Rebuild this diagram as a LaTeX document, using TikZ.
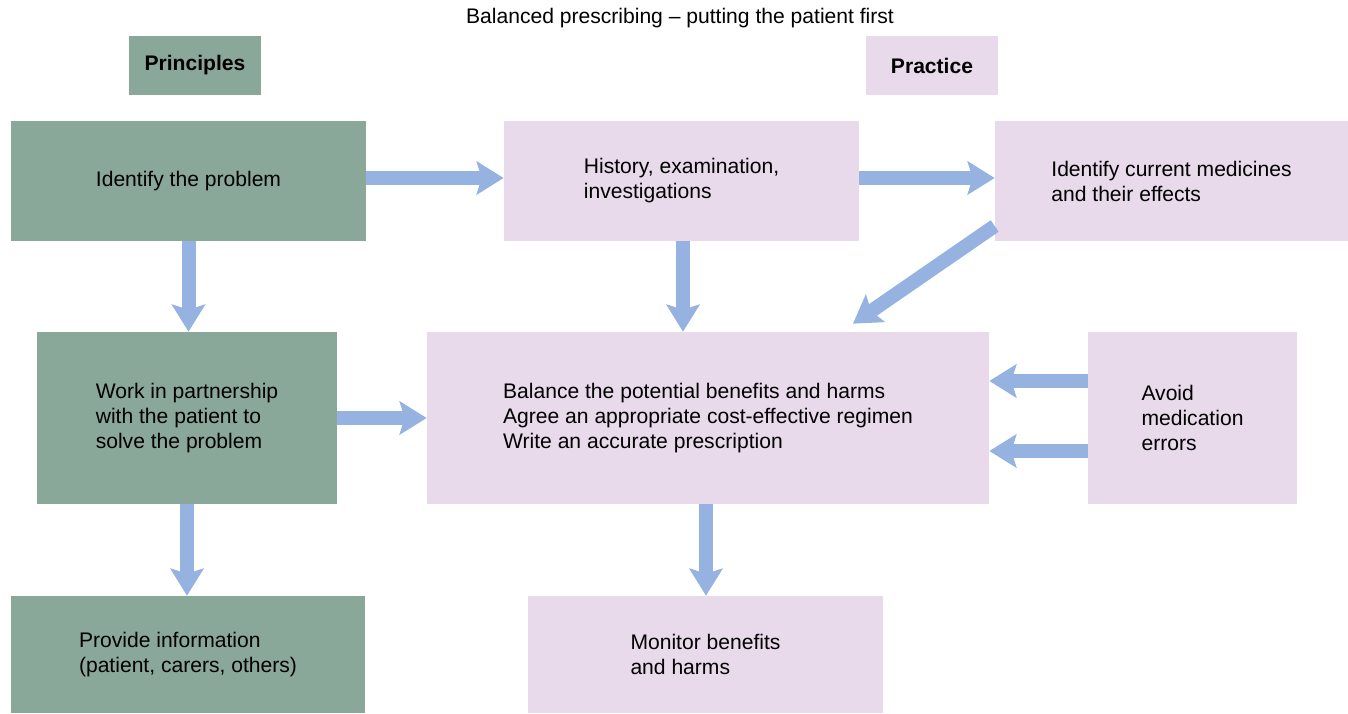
\documentclass[tikz,border=0pt]{standalone}
\usepackage{fontspec}
\setmainfont{Liberation Sans}
\usepackage{tikz}
\usetikzlibrary{arrows.meta}
\usetikzlibrary{positioning}
\definecolor{princgreen}{HTML}{8AA899}
\definecolor{practpink}{HTML}{E8D9EB}
\definecolor{flowblue}{HTML}{96B2E0}
\tikzset{
	txt/.style={font=\fontsize{12pt}{14.2pt}\selectfont, align=left, inner sep=0pt},
	princbox/.style={txt, fill=princgreen, minimum height=2.4cm},
	practbox/.style={txt, fill=practpink, minimum height=2.4cm},
	header/.style={txt, font=\fontsize{12pt}{14.2pt}\selectfont\bfseries, minimum width=2.64cm, minimum height=1.18cm},
	flow/.style={draw=flowblue, line width=0.28cm,
		-{Stealth[length=0.54cm, width=0.66cm, inset=0.1cm, fill=flowblue]}},
}

\begin{document}
\begin{tikzpicture}[x=0.02cm, y=-0.02cm]
			\useasboundingbox (0, 0) rectangle (1348, 713);
			% Title
			\node[txt] (title) at (680, 18) {Balanced prescribing -- putting the patient first};
			% Headers
			\node[header, fill=princgreen] (principles) at (195, 65.5) {Principles};
			\node[header, fill=practpink] (practice) at (932, 65.5) {Practice};
			% Principles column
			\node[princbox, minimum width=7.1cm] (problem) at (188.5, 181) {Identify the problem};
			\node[princbox, minimum width=6cm, minimum height=3.44cm] (partner) at (187, 418) {Work in partnership\\with the patient to\\solve the problem};
			\node[princbox, minimum width=7.08cm, minimum height=2.34cm] (inform) at (188, 654.5) {Provide information\\(patient, carers, others)};
			% Practice boxes
			\node[practbox, minimum width=7.1cm] (history) at (681.5, 181) {History, examination,\\investigations};
			\node[practbox, minimum width=7.06cm] (current) at (1171.5, 181) {Identify current medicines\\and their effects};
			\node[practbox, minimum width=11.24cm, minimum height=3.44cm] (balance) at (708, 418) {Balance the potential benefits and harms\\Agree an appropriate cost-effective regimen\\Write an accurate prescription};
			\node[practbox, minimum width=4.18cm, minimum height=3.44cm] (avoid) at (1192.5, 418) {Avoid\\medication\\errors};
			\node[practbox, minimum width=7.1cm, minimum height=2.34cm] (monitor) at (705.5, 654.5) {Monitor benefits\\and harms};
			% Arrows
			\draw[flow] ([yshift=0.06cm]problem.east) -- ([yshift=0.06cm]history.west);
			\draw[flow] ([yshift=0.06cm]history.east) -- ([yshift=0.06cm]current.west);
			\draw[flow] (problem.south) -- (problem.south |- partner.north);
			\draw[flow] ([xshift=0.03cm]history.south) -- ([xshift=0.03cm]history.south |- balance.north);
			\draw[flow] ([yshift=-0.9cm]current.west) -- ([xshift=2.9cm, yshift=0.16cm]balance.north);
			\draw[flow] (partner.east) -- (balance.west);
			\draw[flow] ([yshift=0.74cm]avoid.west) -- ([yshift=0.74cm]balance.east);
			\draw[flow] ([yshift=-0.66cm]avoid.west) -- ([yshift=-0.66cm]balance.east);
			\draw[flow] (partner.south) -- (partner.south |- inform.north);
			\draw[flow] ([xshift=-0.04cm]balance.south) -- ([xshift=-0.04cm]balance.south |- monitor.north);
		\end{tikzpicture}
\end{document}
